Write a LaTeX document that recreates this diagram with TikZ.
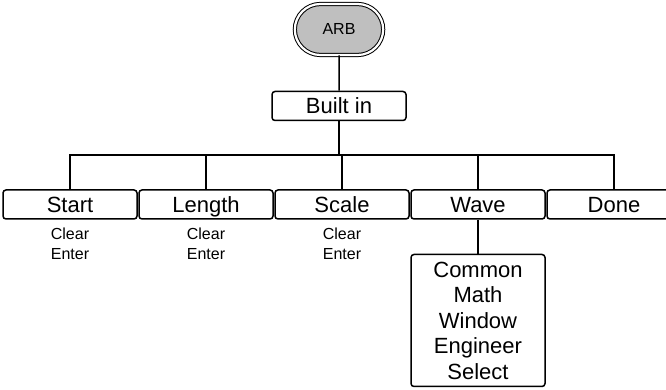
\documentclass[tikz,border=0pt]{standalone}
\usepackage{fontspec}
\setmainfont{Liberation Sans}
\usetikzlibrary{positioning,shapes.misc}

\begin{document}
\begin{tikzpicture}[
    x=1pt, y=1pt,
    menu/.style={rectangle, draw, line width=1.5pt, rounded corners=3pt, minimum width=134pt, minimum height=29pt, inner sep=0pt, text centered, font=\fontsize{22}{25.5}\selectfont},
    onerow/.style={text height=19.75pt, text depth=4pt},
    root/.style={rounded rectangle, draw, double, double distance=2.2pt, line width=1pt, fill=gray!50, minimum width=95pt, minimum height=51pt, font=\fontsize{16}{19}\selectfont},
    keys/.style={align=center, inner sep=0pt, font=\fontsize{16}{20}\selectfont},
    link/.style={line width=1.5pt}
]
\useasboundingbox (0,0) rectangle (666,390);

\node[root] (arb) at (339,360.5) {ARB};
\node[menu, onerow] (builtin) at (339,284) {Built in};

\node[menu, onerow] (start) at (70,185.5) {Start};
\node[menu, onerow, right=0.5pt of start] (length) {Length};
\node[menu, onerow, right=0.5pt of length] (scale) {Scale};
\node[menu, onerow, right=0.5pt of scale] (wave) {Wave};
\node[menu, onerow, right=0.5pt of wave] (done) {Done};

\node[keys, below=8pt of start] (startkeys) {Clear\\Enter};
\node[keys, below=8pt of length] (lengthkeys) {Clear\\Enter};
\node[keys, below=8pt of scale] (scalekeys) {Clear\\Enter};

\node[menu, minimum height=132pt, align=center, below=34pt of wave] (wavelist) {Common\\Math\\Window\\Engineer\\Select};

\draw[link] (arb) -- (builtin);
\draw[link] (builtin.south) -- ++(0,-34) coordinate (bus);
\foreach \n in {start,length,scale,wave,done}
    \draw[link] (\n.north) |- (bus);
\draw[link] (wave) -- (wavelist);
\end{tikzpicture}
\end{document}
